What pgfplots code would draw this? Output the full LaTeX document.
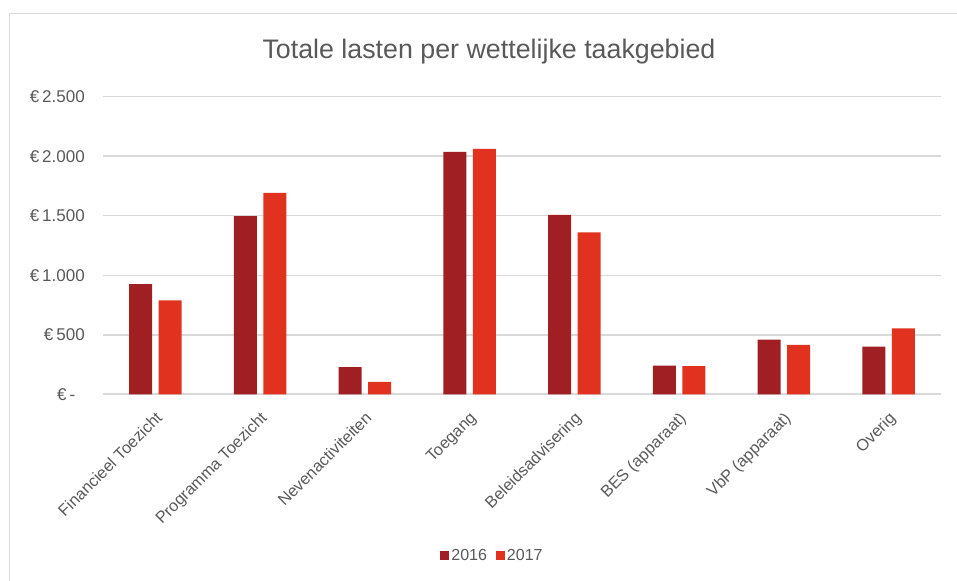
\documentclass[border=0pt]{standalone}
\usepackage{pgfplots}
\pgfplotsset{compat=1.18}
\usepackage{fontspec}
\setmainfont{Liberation Sans}

\definecolor{txt}{HTML}{595959}
\definecolor{gridc}{HTML}{D9D9D9}
\definecolor{c2016}{HTML}{A01F22}
\definecolor{c2017}{HTML}{E0321F}

\begin{document}
\begin{tikzpicture}
\useasboundingbox (0,0) rectangle (957bp,581bp);
% chart frame
\draw[gridc, line width=1.2bp] (9.5bp,0) -- (9.5bp,567.5bp) -- (957bp,567.5bp);

\node[anchor=base, text=txt, font=\fontsize{26.8bp}{30bp}\selectfont]
  at (489bp,522.7bp) {Totale lasten per wettelijke taakgebied};

\begin{axis}[
    at={(103bp,186.7bp)}, anchor=south west,
    scale only axis,
    width=838bp, height=297.6bp,
    ybar=6.4bp, bar width=23bp,
    xmin=-0.5, xmax=7.5,
    ymin=0, ymax=2500,
    xtick=data,
    xticklabels={Financieel Toezicht, Programma Toezicht, Nevenactiviteiten, Toegang, Beleidsadvisering, BES (apparaat), VbP (apparaat), Overig},
    ytick={0,500,1000,1500,2000,2500},
    yticklabels={€\hspace{3bp}-\phantom{0}, €\hspace{3bp}500, €\hspace{3bp}1.000, €\hspace{3bp}1.500, €\hspace{3bp}2.000, €\hspace{3bp}2.500},
    axis line style={draw=none},
    major tick length=0pt,
    ymajorgrids,
    grid style={gridc, line width=1.5bp},
    extra y ticks={0},
    extra y tick labels={},
    extra y tick style={grid style={gridc, line width=1.8bp}},
    tick label style={text=txt, font=\fontsize{17bp}{20bp}\selectfont},
    yticklabel style={anchor=east, inner sep=0pt, xshift=-18bp},
    xticklabel style={rotate=45, anchor=north east, inner sep=0pt, xshift=-12bp, yshift=-11bp,
        font=\fontsize{16.3bp}{19bp}\selectfont},
    legend style={draw=none, fill=none, at={(0.4648,-0.5433)}, anchor=center,
        legend columns=2, font=\fontsize{16bp}{19bp}\selectfont, text=txt,
        /tikz/every even column/.append style={column sep=7bp}},
    legend image code/.code={\fill[#1] (0bp,-4.5bp) rectangle (9bp,4.5bp);},
    legend cell align=left,
]
\addplot[fill=c2016, draw=none] coordinates {
    (0,925) (1,1497) (2,229) (3,2036) (4,1508) (5,240) (6,460) (7,401)};
\addplot[fill=c2017, draw=none] coordinates {
    (0,790) (1,1692) (2,104) (3,2061) (4,1361) (5,236) (6,415) (7,554)};
\legend{2016, 2017}
\end{axis}
\end{tikzpicture}
\end{document}
